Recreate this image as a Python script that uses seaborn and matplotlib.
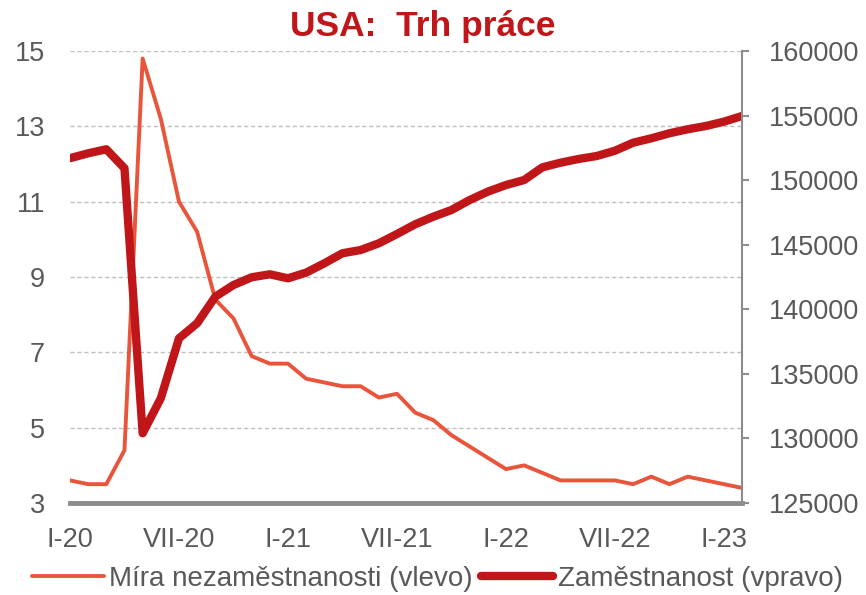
import numpy as np
import pandas as pd
import matplotlib
matplotlib.use("Agg")
import matplotlib.pyplot as plt
import seaborn as sns

# mesicni data XII-19 .. I-23
mesice = pd.period_range("2019-12", "2023-01", freq="M")
nezamestnanost = [3.6, 3.5, 3.5, 4.4, 14.8, 13.2, 11.0, 10.2, 8.4, 7.9, 6.9, 6.7, 6.7,
                  6.3, 6.2, 6.1, 6.1, 5.8, 5.9, 5.4, 5.2, 4.8, 4.5, 4.2, 3.9, 4.0,
                  3.8, 3.6, 3.6, 3.6, 3.6, 3.5, 3.7, 3.5, 3.7, 3.6, 3.5, 3.4]
zamestnanost = [151700, 152080, 152390, 150920, 130400, 133110, 137750, 138920, 140980,
                141880, 142480, 142710, 142400, 142840, 143560, 144340, 144590, 145110,
                145830, 146580, 147170, 147690, 148460, 149110, 149620, 150010, 150990,
                151350, 151640, 151870, 152280, 152900, 153240, 153630, 153940, 154190,
                154530, 154970]
popisky = ["I-20", "VII-20", "I-21", "VII-21", "I-22", "VII-22", "I-23"]

df = pd.DataFrame({"i": np.arange(len(mesice)),
                   "nezam": nezamestnanost,
                   "zam": zamestnanost})

sns.set_style("white")
plt.rcParams["font.family"] = ["Liberation Sans", "DejaVu Sans"]
seda = "#595959"
c_nezam = "#E8553A"
c_zam = "#C0161A"

fig = plt.figure(figsize=(8.66, 5.95), dpi=100)
ax = fig.add_axes([0.0808, 0.1546, 0.7762, 0.7597])
ax2 = ax.twinx()

sns.lineplot(data=df, x="i", y="nezam", ax=ax, color=c_nezam, linewidth=2.8,
             label="Míra nezaměstnanosti (vlevo)", legend=False)
sns.lineplot(data=df, x="i", y="zam", ax=ax2, color=c_zam, linewidth=6,
             label="Zaměstnanost (vpravo)", legend=False)

ax.set_xlim(0, len(mesice) - 1)
ax.set_ylim(3, 15)
ax.set_yticks(np.arange(3, 16, 2))
ax2.set_ylim(125000, 160000)
ax2.set_yticks(np.arange(125000, 160001, 5000))
ax.set_xticks(np.arange(0, len(mesice), 6))
ax.set_xticklabels(popisky)
ax.set_xlabel("")
ax.set_ylabel("")
ax2.set_ylabel("")

ax.yaxis.grid(True, color="#BFBFBF", linestyle=(0, (3, 2)), linewidth=1)
ax.set_axisbelow(True)

for a in (ax, ax2):
    for s in ("left", "top", "right", "bottom"):
        a.spines[s].set_visible(False)
ax.spines["bottom"].set_visible(True)
ax.spines["bottom"].set_color("#8C8C8C")
ax.spines["bottom"].set_linewidth(3.5)
ax2.spines["right"].set_visible(True)
ax2.spines["right"].set_color("#8C8C8C")
ax2.spines["right"].set_linewidth(1.5)

ax.tick_params(axis="x", length=0, labelsize=19.5, labelcolor=seda, pad=17)
ax.tick_params(axis="y", length=0, labelsize=19.5, labelcolor=seda, pad=18)
ax2.tick_params(axis="y", length=5, width=1.5, color="#8C8C8C", labelsize=19.5,
                labelcolor=seda, pad=14, direction="out")

fig.text(0.488, 0.955, "USA:  Trh práce", ha="center", va="center", fontsize=25.5,
         fontweight="bold", color=c_zam)

h1, l1 = ax.get_legend_handles_labels()
h2, l2 = ax2.get_legend_handles_labels()
fig.legend(h1 + h2, l1 + l2, loc="center", bbox_to_anchor=(0.505, 0.027), ncol=2,
           frameon=False, fontsize=20, labelcolor=seda, handlelength=2.6,
           handletextpad=0.18, columnspacing=0.3, borderpad=0, borderaxespad=0)

fig.savefig("out.png", dpi=100)
